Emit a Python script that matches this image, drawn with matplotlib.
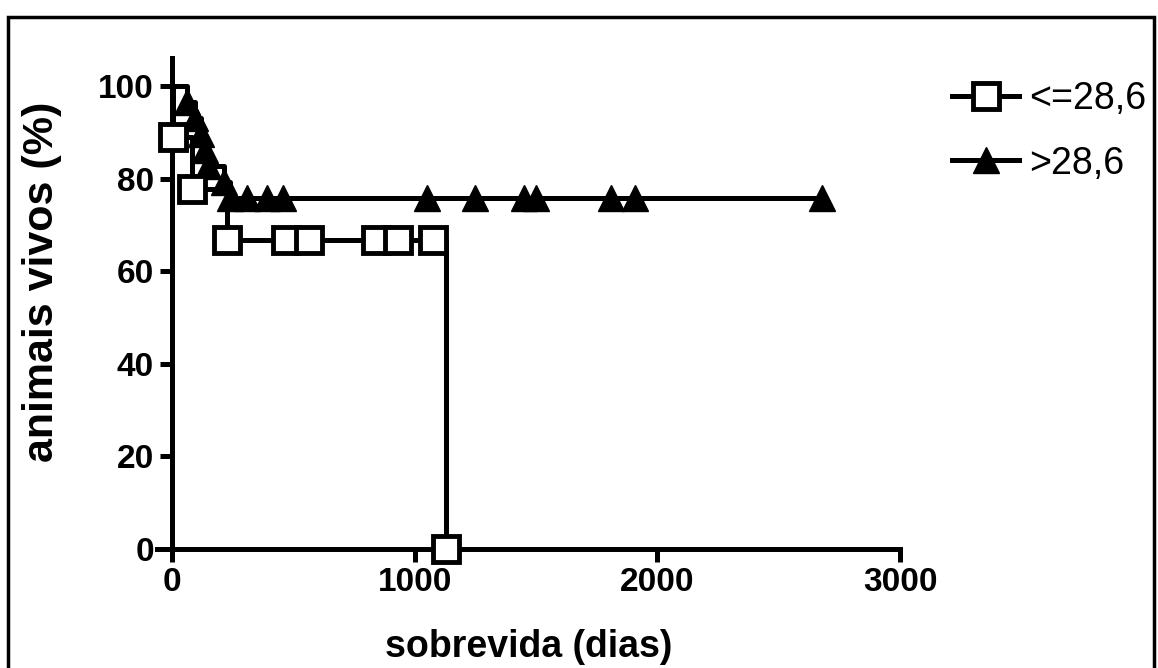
import matplotlib
matplotlib.use('Agg')
import matplotlib.pyplot as plt
from matplotlib.lines import Line2D
from matplotlib.patches import Rectangle

# Kaplan-Meier data
labels = ['<=28,6', '>28,6']

# group <=28,6 (squares)
sq_days = [0, 3, 83, 228, 1130]
sq_surv = [100, 88.9, 77.8, 66.7, 0]
sq_cens_days = [472, 563, 840, 931, 1076]
sq_cens_surv = 66.7

# group >28,6 (triangles)
tri_days = [0, 64, 95, 120, 135, 150, 215, 240]
tri_surv = [100, 96.6, 93.1, 89.7, 86.2, 82.8, 79.3, 75.9]
tri_cens_days = [310, 393, 459, 1051, 1249, 1452, 1502, 1808, 1907, 2677]
tri_cens_surv = 75.9

plt.rcParams['font.family'] = ['Liberation Sans', 'DejaVu Sans']

fig = plt.figure(figsize=(11.58, 6.68), dpi=100)
ax = fig.add_axes([0.1359, 0.178, 0.6413, 0.735])

lw = 3.6
# step lines
ax.step(sq_days, sq_surv, where='post', color='black', lw=lw, clip_on=False)
ax.step(tri_days + [tri_cens_days[-1]], tri_surv + [tri_cens_surv], where='post',
        color='black', lw=lw, clip_on=False)

# markers at events and censored points
sq_style = dict(marker='s', markersize=18.5, markerfacecolor='white', markeredgecolor='black',
                markeredgewidth=3.5, linestyle='none', clip_on=False, zorder=5)
tri_style = dict(marker='^', markersize=18.5, markerfacecolor='black', markeredgecolor='black',
                 linestyle='none', clip_on=False, zorder=5)
ax.plot(tri_days[1:], tri_surv[1:], **tri_style)
ax.plot(tri_cens_days, [tri_cens_surv] * len(tri_cens_days), **tri_style)
ax.plot(sq_days[1:], sq_surv[1:], **sq_style)
ax.plot(sq_cens_days, [sq_cens_surv] * len(sq_cens_days), **sq_style)

ax.set_xlim(-60, 3000)
ax.set_ylim(0, 106)
ax.set_xticks([0, 1000, 2000, 3000])
ax.set_yticks([0, 20, 40, 60, 80, 100])
ax.spines['left'].set_position(('data', 0))
ax.spines['right'].set_visible(False)
ax.spines['top'].set_visible(False)
for s in ['left', 'bottom']:
    ax.spines[s].set_linewidth(lw)
ax.tick_params(axis='both', length=9, width=lw, labelsize=24, pad=4)
for t in ax.get_xticklabels() + ax.get_yticklabels():
    t.set_fontweight('bold')

ax.set_xlabel('sobrevida (dias)', fontsize=27, fontweight='bold', labelpad=22)
ax.set_ylabel('animais vivos (%)', fontsize=31, fontweight='bold')
ax.yaxis.set_label_coords(-0.128, 0.545)

handles = [Line2D([], [], color='black', lw=lw, **{k: v for k, v in sq_style.items()
                                                    if k not in ('linestyle', 'clip_on', 'zorder')}),
           Line2D([], [], color='black', lw=lw, **{k: v for k, v in tri_style.items()
                                                    if k not in ('linestyle', 'clip_on', 'zorder')})]
fig.legend(handles, labels, loc='upper left', bbox_to_anchor=(0.822, 0.878),
           frameon=False, fontsize=27, handlelength=1.8, handletextpad=0.25,
           labelspacing=0.75, borderpad=0, borderaxespad=0)

# frame around the whole picture
fig.patches.append(Rectangle((8 / 1158, -0.02), 1146 / 1158, 1.02 - 17 / 668,
                             transform=fig.transFigure, fill=False, edgecolor='black',
                             linewidth=2.5))

fig.savefig('out.png', dpi=100)
